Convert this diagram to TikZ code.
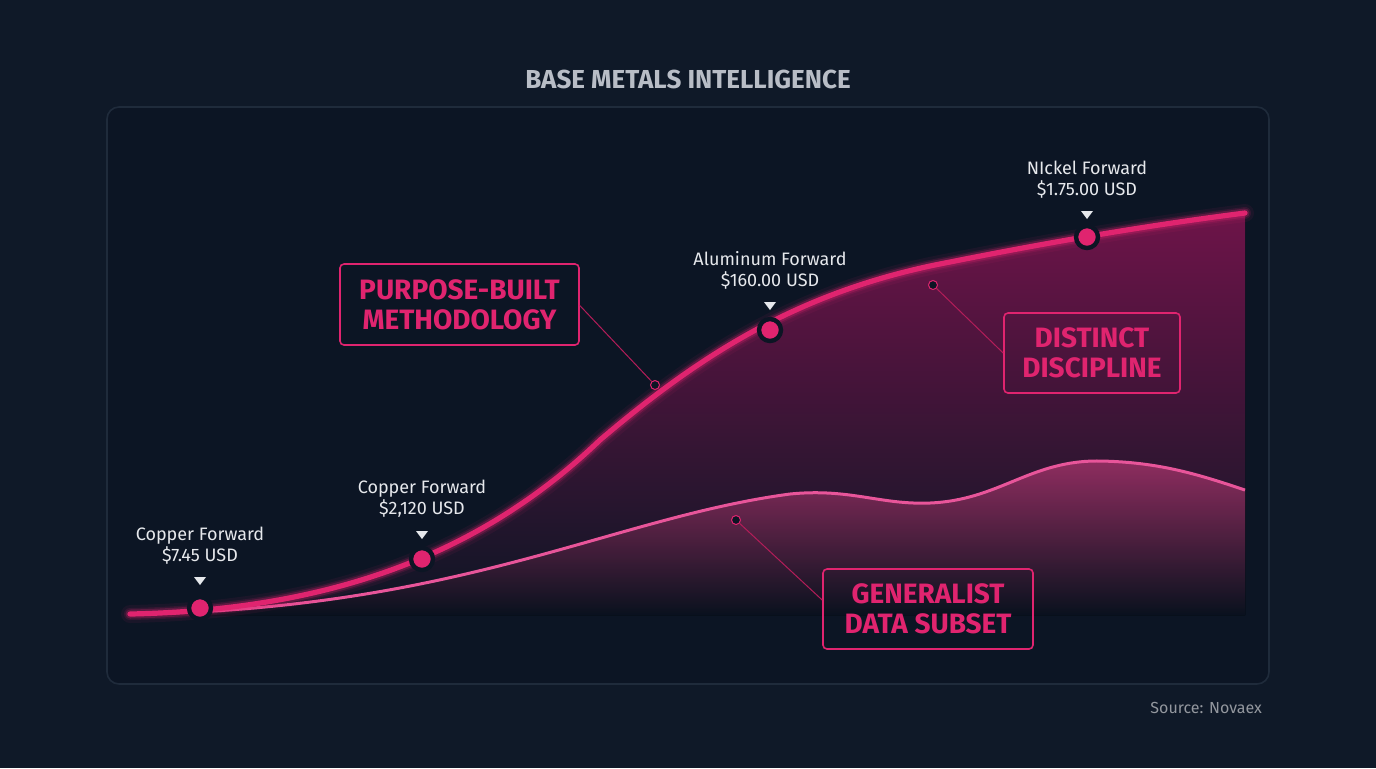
\documentclass[tikz,border=0pt]{standalone}
\usepackage{fontspec}
\setmainfont{Fira Sans}
\usetikzlibrary{shapes.geometric}
\definecolor{bg}{HTML}{0F1928}
\definecolor{panel}{HTML}{0C1524}
\definecolor{pborder}{HTML}{1F2B3B}
\definecolor{mag}{HTML}{E0246F}
\definecolor{magdark}{HTML}{6E1449}
\definecolor{maglite}{HTML}{E8559A}
\definecolor{txt}{HTML}{E6E8EC}
\definecolor{gtxt}{HTML}{B8BDC6}
\tikzset{
 lbl/.style={text=txt,font=\fontsize{9}{10.5}\selectfont,align=center},
 callout/.style={draw=mag,line width=0.8pt,rounded corners=2pt,text=mag,font=\fontsize{14}{15}\selectfont\bfseries,align=center,inner sep=0pt},
 marker/.style={circle,fill=mag,draw=panel,line width=2.2pt,minimum size=11pt,inner sep=0pt},
 tri/.style={isosceles triangle,shape border rotate=-90,fill=txt,minimum width=6pt,minimum height=4pt,inner sep=0pt,isosceles triangle stretches},
 leader/.style={draw=mag!80!black,line width=0.5pt},
 dot/.style={circle,draw=mag,line width=0.5pt,minimum size=4.5pt,inner sep=0pt,fill=panel}
}
\def\mainpath{(130,614) .. controls (330,610) and (480,555) .. (600,440) .. controls (700,355) and (800,290) .. (950,262) .. controls (1050,242) and (1150,225) .. (1245,213)}
\def\lowpath{(130,614) .. controls (460,610) and (610,518) .. (790,494) .. controls (850,488) and (880,505) .. (930,503) .. controls (1000,500) and (1030,460) .. (1100,461) .. controls (1160,462) and (1200,475) .. (1245,490)}
\begin{document}
\begin{tikzpicture}[x=0.5pt,y=-0.5pt]
\fill[bg] (0,0) rectangle (1376,768);
\useasboundingbox (0,0) rectangle (1376,768);
\node[text=gtxt,font=\fontsize{13}{14}\selectfont\bfseries] (title) at (688,79) {BASE METALS INTELLIGENCE};
\draw[fill=panel,draw=pborder,line width=0.8pt,rounded corners=6pt] (107,107) rectangle (1269,684);
% areas
\fill[top color=magdark,bottom color=panel] \mainpath -- (1245,615) -- (130,615) -- cycle;
\fill[top color=maglite!55!magdark,bottom color=panel,fill opacity=0.8] \lowpath -- (1245,615) -- (130,615) -- cycle;
\draw[maglite,line width=1.5pt] \lowpath;
\foreach \w/\o in {9/0.07,6/0.13,4.5/0.25}{
\draw[mag,line width=\w pt,opacity=\o,line cap=round] \mainpath;}
\draw[mag,line width=2.6pt,line cap=round] \mainpath;
% markers
\node[marker] (m1) at (200,608) {};
\node[marker] (m2) at (422,559) {};
\node[marker] (m3) at (770,330) {};
\node[marker] (m4) at (1087,237) {};
\node[tri] (t1) at (200,580) {};
\node[tri] (t2) at (422,534) {};
\node[tri] (t3) at (770,305) {};
\node[tri] (t4) at (1087,214) {};
\node[lbl] (l1) at (200,546) {Copper Forward\\\$7.45 USD};
\node[lbl] (l2) at (422,499) {Copper Forward\\\$2,120 USD};
\node[lbl] (l3) at (770,270) {Aluminum Forward\\\$160.00 USD};
\node[lbl] (l4) at (1087,180) {NIckel Forward\\\$1.75.00 USD};
% callouts
\node[callout,minimum width=119.5pt,minimum height=40.5pt] (c1) at (459.5,304.5) {PURPOSE-BUILT\\METHODOLOGY};
\node[callout,minimum width=88pt,minimum height=40pt] (c2) at (1092,353) {DISTINCT\\DISCIPLINE};
\node[callout,minimum width=105pt,minimum height=40pt] (c3) at (928,609) {GENERALIST\\DATA SUBSET};
\node[dot] (d1) at (655,385) {};
\node[dot] (d2) at (933,285) {};
\node[dot] (d3) at (736,520) {};
\draw[leader] (c1.east) ++(0,1) -- (d1);
\draw[leader] (c2.west) -- (d2);
\draw[leader] (c3.west) ++(0,-9) -- (d3);
\node[text=gtxt!80!black,font=\fontsize{8}{9}\selectfont,anchor=east] (src) at (1269,708) {Source: Novaex};
\end{tikzpicture}
\end{document}
